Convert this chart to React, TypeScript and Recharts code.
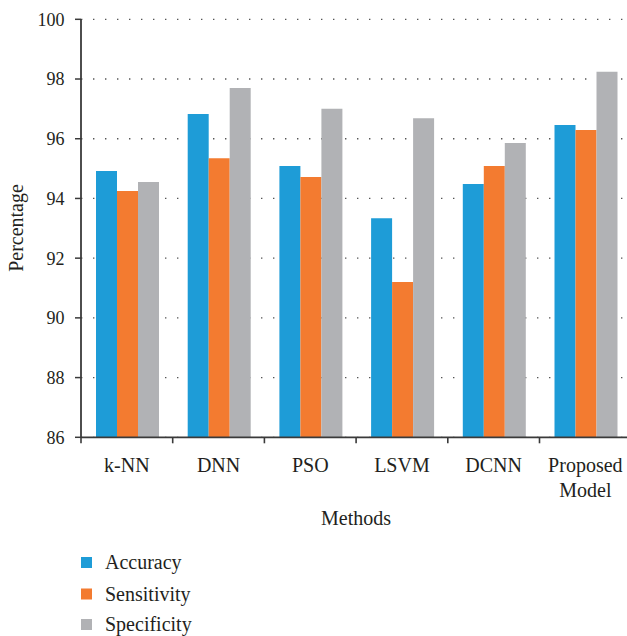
import { BarChart, Bar, XAxis, YAxis, CartesianGrid } from "recharts";

const methods = ["k-NN", "DNN", "PSO", "LSVM", "DCNN", "Proposed Model"];
const accuracy = [94.92, 96.83, 95.09, 93.34, 94.48, 96.46];
const sensitivity = [94.25, 95.35, 94.72, 91.2, 95.09, 96.29];
const specificity = [94.55, 97.7, 97.0, 96.69, 95.86, 98.24];
const yTicks = [86, 88, 90, 92, 94, 96, 98, 100];

const seriesNames = ["Accuracy", "Sensitivity", "Specificity"];
const colors = ["#1e9cd7", "#f37b30", "#b1b2b5"];
const ink = "#231f20";
const axisColor = "#3a3a3a";
const font = "'Liberation Serif', 'Times New Roman', serif";

const data = methods.map((m, i) => ({
  method: m,
  Accuracy: accuracy[i],
  Sensitivity: sensitivity[i],
  Specificity: specificity[i],
}));

// legend row tops (px)
const legendTops = [557, 588.5, 619];

function MethodTick(props: any) {
  const { x, y, payload, index } = props;
  const half = payload?.offset || 45.85;
  const lines = String(payload.value).split(" ");
  return (
    <g>
      <line x1={x - half} x2={x - half} y1={y} y2={y + 6} stroke={axisColor} strokeWidth={1.6} />
      {index === methods.length - 1 && (
        <line x1={x + half} x2={x + half} y1={y} y2={y + 6} stroke={axisColor} strokeWidth={1.6} />
      )}
      <text x={x} y={y + 34.4} textAnchor="middle" fontSize={20} fill={ink} fontFamily={font}>
        {lines.map((l, i) => (
          <tspan key={i} x={x} dy={i === 0 ? 0 : 25}>
            {l}
          </tspan>
        ))}
      </text>
    </g>
  );
}

export default function App() {
  return (
    <div
      style={{
        position: "fixed",
        left: 0,
        top: 0,
        width: 627,
        height: 636,
        overflow: "hidden",
        background: "#fff",
        fontFamily: font,
      }}
    >
      <BarChart
        width={650}
        height={540}
        data={data}
        margin={{ top: 19.3, right: 18.8, left: 0, bottom: 2.7 }}
        barCategoryGap={15}
        barGap={0}
      >
        <CartesianGrid
          vertical={false}
          stroke="#555"
          strokeWidth={1.3}
          strokeDasharray="1.4 10.6"
        />
        <XAxis
          dataKey="method"
          height={100}
          interval={0}
          tickLine={false}
          tickSize={0}
          tickMargin={0}
          tick={<MethodTick />}
          axisLine={{ stroke: axisColor, strokeWidth: 1.8 }}
        />
        <YAxis
          width={81}
          domain={[86, 100]}
          ticks={yTicks}
          interval={0}
          tickSize={6}
          tickMargin={10.5}
          tickLine={{ stroke: axisColor, strokeWidth: 1.5 }}
          axisLine={{ stroke: axisColor, strokeWidth: 1.8 }}
          tick={{ fill: ink, fontSize: 18, fontFamily: font }}
        />
        {seriesNames.map((s, i) => (
          <Bar key={s} dataKey={s} fill={colors[i]} isAnimationActive={false} />
        ))}
      </BarChart>
      <svg
        width={627}
        height={636}
        style={{ position: "absolute", left: 0, top: 0, pointerEvents: "none" }}
      >
        <text
          transform="translate(22.5,228) rotate(-90)"
          textAnchor="middle"
          fontSize={20}
          fill={ink}
          fontFamily={font}
        >
          Percentage
        </text>
        <text x={356} y={525} textAnchor="middle" fontSize={20} fill={ink} fontFamily={font}>
          Methods
        </text>
        {seriesNames.map((s, i) => {
          const top = legendTops[i];
          return (
            <g key={s}>
              <rect x={81} y={top} width={11} height={11} fill={colors[i]} />
              <text x={105} y={top + 12} fontSize={20} fill={ink} fontFamily={font}>
                {s}
              </text>
            </g>
          );
        })}
      </svg>
    </div>
  );
}
